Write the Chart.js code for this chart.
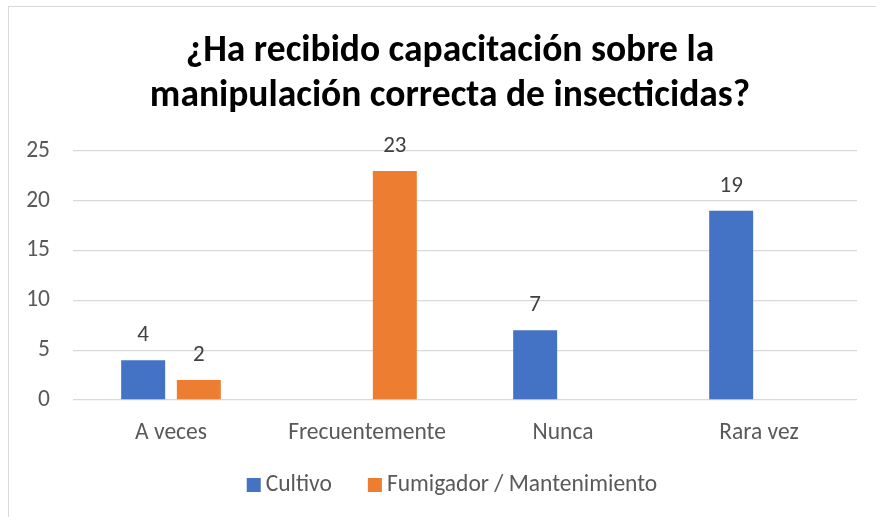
<!DOCTYPE html>
<html>
<head>
<meta charset="utf-8">
<script src="https://cdn.jsdelivr.net/npm/chart.js@4"></script>
<style>
  html, body { margin: 0; padding: 0; background: #fff; }
  #wrap { position: relative; width: 876px; height: 517px; overflow: hidden; }
  #frame { position: absolute; left: 8px; top: 6px; width: 900px; height: 560px; border: 1px solid #d9d9d9; }
  canvas { position: absolute; left: 0; top: 0; }
</style>
</head>
<body>
<div id="wrap">
  <div id="frame"></div>
  <canvas id="chart" width="876" height="517"></canvas>
</div>
<script>
// categorías y series
const categories = ['A veces', 'Frecuentemente', 'Nunca', 'Rara vez'];
const cultivo = [4, null, 7, 19];
const fumigador = [2, 23, null, null];
const yTicks = [0, 5, 10, 15, 20, 25];
const titleLines = ['¿Ha recibido capacitación sobre la', 'manipulación correcta de insecticidas?'];

const FONT = 'Carlito, Calibri, Lato, sans-serif';
const CENTER_X = 450; // el marco del gráfico está centrado aquí

// título, leyenda y etiquetas de valor dibujados a mano
const decorations = {
    id: 'decorations',
    afterDatasetsDraw(chart) {
        const ctx = chart.ctx;
        ctx.save();

        // valores encima de las barras
        ctx.font = '23px ' + FONT;
        ctx.fillStyle = '#404040';
        ctx.textAlign = 'center';
        ctx.textBaseline = 'middle';
        chart.data.datasets.forEach((ds, i) => {
            chart.getDatasetMeta(i).data.forEach((bar, j) => {
                const v = ds.data[j];
                if (v === null || v === undefined) return;
                ctx.fillText(String(v), bar.x, bar.y - 25);
            });
        });

        // título en dos líneas
        ctx.font = 'bold 37.5px ' + FONT;
        ctx.fillStyle = '#000';
        titleLines.forEach((t, i) => ctx.fillText(t, CENTER_X, 52 + i * 45));

        // leyenda
        ctx.font = '23.5px ' + FONT;
        const box = 14, gap = 5, spacing = 36;
        const items = chart.data.datasets.map(ds => ({
            text: ds.label, color: ds.backgroundColor, w: ctx.measureText(ds.label).width
        }));
        const total = items.reduce((s, it) => s + box + gap + it.w, 0) + spacing * (items.length - 1);
        let x = CENTER_X + 2 - total / 2;
        const y = 485;
        ctx.textAlign = 'left';
        items.forEach(it => {
            ctx.fillStyle = it.color;
            ctx.fillRect(x, y - box / 2, box, box);
            ctx.fillStyle = '#595959';
            ctx.fillText(it.text, x + box + gap, y);
            x += box + gap + it.w + spacing;
        });

        ctx.restore();
    }
};

new Chart(document.getElementById('chart'), {
    type: 'bar',
    data: {
        labels: categories,
        datasets: [
            { label: 'Cultivo', data: cultivo, backgroundColor: '#4472C4' },
            { label: 'Fumigador / Mantenimiento', data: fumigador, backgroundColor: '#ED7D31' }
        ]
    },
    options: {
        responsive: false,
        animation: false,
        categoryPercentage: 0.568,
        barPercentage: 0.79,
        layout: { padding: { left: 0, right: 19, top: 151, bottom: 66 } },
        plugins: {
            title: { display: false },
            legend: { display: false },
            tooltip: { enabled: false }
        },
        scales: {
            x: {
                grid: { display: false },
                border: { display: false },
                afterFit(scale) { scale.height = 51; },
                ticks: { color: '#595959', font: { family: FONT, size: 23.5 }, padding: 11 }
            },
            y: {
                min: 0,
                max: 25,
                afterBuildTicks(scale) { scale.ticks = yTicks.map(v => ({ value: v })); },
                afterFit(scale) { scale.width = 73; },
                grid: { color: '#d9d9d9', lineWidth: 1.3, drawTicks: false },
                border: { display: false },
                ticks: { color: '#595959', font: { family: FONT, size: 23.5 }, padding: 23 }
            }
        }
    },
    plugins: [decorations]
});
</script>
</body>
</html>
